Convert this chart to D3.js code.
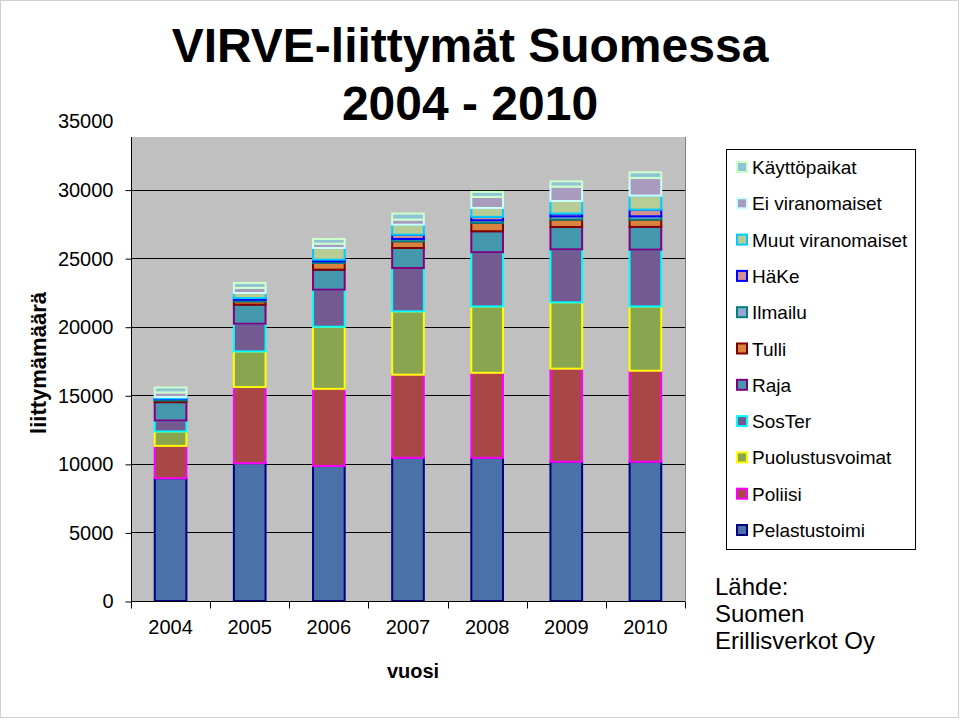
<!DOCTYPE html>
<html>
<head>
<meta charset="utf-8">
<script src="https://cdn.jsdelivr.net/npm/d3@7"></script>
<style>
  body { margin: 0; background: #fff; }
  text { font-family: Arial, "Liberation Sans", sans-serif; }
</style>
</head>
<body>
<div id="chart"></div>
<script>
// data
var years = ["2004", "2005", "2006", "2007", "2008", "2009", "2010"];
var seriesNames = ["Pelastustoimi", "Poliisi", "Puolustusvoimat", "SosTer", "Raja", "Tulli",
  "Ilmailu", "HäKe", "Muut viranomaiset", "Ei viranomaiset", "Käyttöpaikat"];

var pelastustoimi = [8950, 10050, 9850, 10440, 10440, 10150, 10150];
var poliisi = [2360, 5550, 5620, 6060, 6200, 6790, 6640];
var puolustusvoimat = [1050, 2600, 4530, 4620, 4840, 4840, 4690];
var soster = [800, 2020, 2700, 3160, 3950, 3860, 4140];
var raja = [1340, 1390, 1460, 1460, 1530, 1630, 1660];
var tulli = [120, 240, 490, 490, 610, 540, 530];
var ilmailu = [100, 120, 120, 170, 190, 240, 240];
var hake = [50, 120, 120, 310, 250, 200, 490];
var muut = [100, 370, 850, 730, 650, 920, 1020];
var eiViranomaiset = [340, 370, 320, 370, 810, 1050, 1290];
var kayttopaikat = [360, 360, 340, 440, 360, 380, 410];

var yTicks = [0, 5000, 10000, 15000, 20000, 25000, 30000, 35000];

var fills = ["#4A72A8", "#A84745", "#8AA54F", "#735A91", "#4398AE", "#D9843E",
  "#94A8CF", "#D09191", "#B8CC95", "#A99BBD", "#92C3D5"];
var strokes = ["#000080", "#FF00FF", "#FFFF00", "#00FFFF", "#800080", "#800000",
  "#008080", "#0000FF", "#00CCFF", "#CCFFFF", "#CCFFCC"];

var allSeries = [pelastustoimi, poliisi, puolustusvoimat, soster, raja, tulli,
  ilmailu, hake, muut, eiViranomaiset, kayttopaikat];

// build table for d3.stack
var table = years.map(function(y, i) {
  var row = { year: y };
  seriesNames.forEach(function(s, j) { row[s] = allSeries[j][i]; });
  return row;
});

var svgWidth = 960;
var svgHeight = 720;

var plot = { left: 131, right: 685, top: 137, bottom: 601 };

var svg = d3.select("#chart")
  .append("svg")
  .attr("width", svgWidth)
  .attr("height", svgHeight);

var xScale = d3.scaleBand()
  .domain(years)
  .range([plot.left, plot.right])
  .paddingInner(0.6)
  .paddingOuter(0.3);

var yScale = d3.scaleLinear()
  .domain([0, 35000])
  .range([plot.bottom, 121]);

// plot background
svg.append("rect")
  .attr("x", plot.left)
  .attr("y", yScale(35000))
  .attr("width", plot.right - plot.left)
  .attr("height", plot.bottom - yScale(35000))
  .attr("fill", "#C0C0C0");

// gridlines
svg.append("g")
  .selectAll("line")
  .data(yTicks.slice(1))
  .enter()
  .append("line")
  .attr("x1", plot.left)
  .attr("x2", plot.right)
  .attr("y1", d => Math.round(yScale(d)) + 0.5)
  .attr("y2", d => Math.round(yScale(d)) + 0.5)
  .attr("stroke", "#000")
  .attr("stroke-width", 1);

// stacked bars
var stack = d3.stack().keys(seriesNames);
var layers = stack(table);

svg.append("g")
  .selectAll("g")
  .data(layers)
  .enter()
  .append("g")
  .attr("fill", (d, i) => fills[i])
  .attr("stroke", (d, i) => strokes[i])
  .attr("stroke-width", 2)
  .selectAll("rect")
  .data(d => d)
  .enter()
  .append("rect")
  .attr("x", d => xScale(d.data.year))
  .attr("y", d => yScale(d[1]))
  .attr("width", xScale.bandwidth())
  .attr("height", d => yScale(d[0]) - yScale(d[1]));

// white title area covering top of plot
svg.append("rect")
  .attr("x", plot.left - 1)
  .attr("y", 0)
  .attr("width", plot.right - plot.left + 8)
  .attr("height", plot.top)
  .attr("fill", "#fff");

// plot edges
svg.append("line")
  .attr("x1", plot.right + 0.5).attr("x2", plot.right + 0.5)
  .attr("y1", plot.top).attr("y2", plot.bottom)
  .attr("stroke", "#808080");

// y axis
var leftAxis = d3.axisLeft(yScale)
  .tickValues(yTicks)
  .tickSize(6)
  .tickPadding(12)
  .tickFormat(d3.format("d"));

var yAxis = svg.append("g")
  .attr("transform", `translate(${plot.left + 0.5}, 0.5)`)
  .call(leftAxis);

yAxis.select(".domain").remove();
yAxis.selectAll(".tick line").attr("stroke", "#000");
yAxis.selectAll(".tick").filter(d => d === 35000).select("line").remove();
yAxis.selectAll("text")
  .attr("fill", "#000")
  .style("font-size", "20px")
  .style("font-family", "Arial, 'Liberation Sans', sans-serif");

svg.append("line")
  .attr("x1", plot.left + 0.5).attr("x2", plot.left + 0.5)
  .attr("y1", plot.top).attr("y2", plot.bottom + 1)
  .attr("stroke", "#000");

// x axis
var bottomAxis = d3.axisBottom(xScale)
  .tickSize(0)
  .tickPadding(18);

var xAxis = svg.append("g")
  .attr("transform", `translate(0, ${plot.bottom + 0.5})`)
  .call(bottomAxis);

xAxis.select(".domain")
  .attr("d", `M${plot.left},0H${plot.right}`)
  .attr("stroke", "#000");
xAxis.selectAll("text")
  .attr("fill", "#000")
  .style("font-size", "20px")
  .style("font-family", "Arial, 'Liberation Sans', sans-serif");

// category boundary ticks
var step = xScale.step();
xAxis.append("g")
  .selectAll("line")
  .data(d3.range(years.length + 1))
  .enter()
  .append("line")
  .attr("x1", i => Math.round(plot.left + i * step) + 0.5)
  .attr("x2", i => Math.round(plot.left + i * step) + 0.5)
  .attr("y1", 0)
  .attr("y2", 7)
  .attr("stroke", "#000");

// axis titles
svg.append("text")
  .attr("x", (plot.left + plot.right) / 2 + 5)
  .attr("y", 678)
  .attr("text-anchor", "middle")
  .style("font-size", "20px")
  .style("font-weight", "bold")
  .text("vuosi");

svg.append("text")
  .attr("transform", "translate(46, 363) rotate(-90)")
  .attr("text-anchor", "middle")
  .style("font-size", "22px")
  .style("font-weight", "bold")
  .text("liittymämäärä");

// title
svg.append("text")
  .attr("x", 470)
  .attr("y", 62)
  .attr("text-anchor", "middle")
  .style("font-size", "48px")
  .style("font-weight", "bold")
  .text("VIRVE-liittymät Suomessa");

svg.append("text")
  .attr("x", 470)
  .attr("y", 120)
  .attr("text-anchor", "middle")
  .style("font-size", "48px")
  .style("font-weight", "bold")
  .text("2004 - 2010");

// legend
var legend = svg.append("g");

legend.append("rect")
  .attr("x", 726.5)
  .attr("y", 149.5)
  .attr("width", 189)
  .attr("height", 400)
  .attr("fill", "#fff")
  .attr("stroke", "#000");

var legendOrder = seriesNames.map((s, i) => i).reverse();
var legendItems = legend.selectAll(".item")
  .data(legendOrder)
  .enter()
  .append("g")
  .attr("class", "item")
  .attr("transform", (d, k) => `translate(0, ${167 + k * 36.3})`);

legendItems.append("rect")
  .attr("x", 737)
  .attr("y", -5)
  .attr("width", 10)
  .attr("height", 10)
  .attr("fill", d => fills[d])
  .attr("stroke", d => strokes[d])
  .attr("stroke-width", 2);

legendItems.append("text")
  .attr("x", 752)
  .attr("y", 7)
  .style("font-size", "19px")
  .text(d => seriesNames[d]);

// source
var source = svg.append("text")
  .attr("x", 715)
  .attr("y", 595)
  .style("font-size", "24px");

["Lähde:", "Suomen", "Erillisverkot Oy"].forEach(function(line, i) {
  source.append("tspan")
    .attr("x", 715)
    .attr("dy", i === 0 ? 0 : 27)
    .text(line);
});

// outer frame
svg.append("rect")
  .attr("x", 0.5)
  .attr("y", 0.5)
  .attr("width", svgWidth - 2)
  .attr("height", svgHeight - 3)
  .attr("fill", "none")
  .attr("stroke", "#d0d0d0");
</script>
</body>
</html>
